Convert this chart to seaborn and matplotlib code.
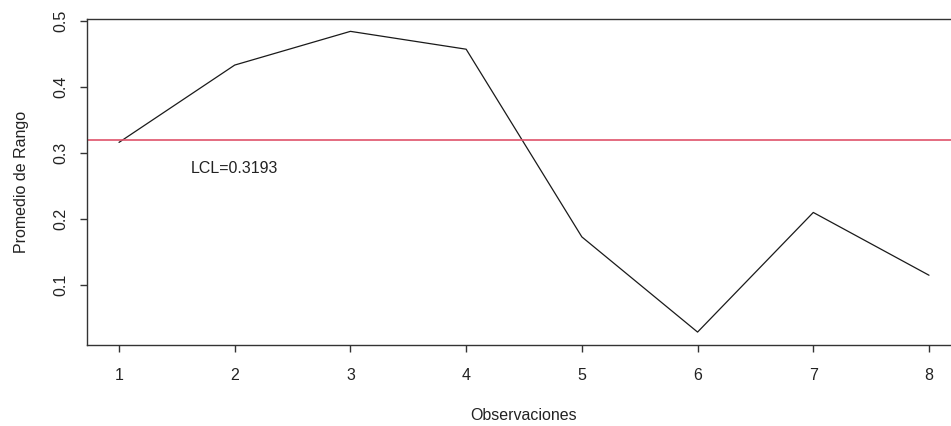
import matplotlib
matplotlib.use("Agg")
import matplotlib.pyplot as plt
import seaborn as sns
import pandas as pd

observaciones = [1, 2, 3, 4, 5, 6, 7, 8]
promedio_rango = [0.316, 0.433, 0.484, 0.457, 0.173, 0.029, 0.210, 0.115]
lcl_value = 0.3193
lcl_label = "LCL=0.3193"
x_ticks = [1, 2, 3, 4, 5, 6, 7, 8]
y_ticks = [0.1, 0.2, 0.3, 0.4, 0.5]
y_tick_labels = ["0.1", "0.2", "0.3", "0.4", "0.5"]

sns.set_style("white")
plt.rcParams["font.family"] = ["Liberation Sans", "DejaVu Sans"]

W, H = 951, 426
fig = plt.figure(figsize=(W / 100, H / 100), dpi=100)
x0, x1 = 0.72, 8.28
px_per_unit = (929 - 119) / 7.0
left_px = 119 - (1 - x0) * px_per_unit
width_px = (x1 - x0) * px_per_unit
top_px, bottom_px = 18.8, 345.3
ax = fig.add_axes([left_px / W, (H - bottom_px) / H, width_px / W, (bottom_px - top_px) / H])

df = pd.DataFrame({"obs": observaciones, "val": promedio_rango})
sns.lineplot(data=df, x="obs", y="val", ax=ax, color="#1a1a1a", linewidth=0.9)
ax.axhline(lcl_value, color="#DF536B", linewidth=1.2)
ax.text(2, 0.2765, lcl_label, ha="center", va="center", fontsize=11.5, color="#222222")

ax.set_xlim(x0, x1)
ax.set_ylim(0.009, 0.503)
ax.set_xticks(x_ticks)
ax.set_xticklabels([str(t) for t in x_ticks])
ax.set_yticks(y_ticks)
ax.set_yticklabels(y_tick_labels, rotation=90, va="center")

for s in ax.spines.values():
    s.set_color("#333333")
    s.set_linewidth(1.0)
ax.spines["right"].set_visible(False)

ax.tick_params(axis="both", which="major", direction="out", length=5, width=1.0,
               color="#333333", labelsize=11.5, labelcolor="#222222",
               bottom=True, left=True, top=False, right=False)
ax.tick_params(axis="x", pad=11)
ax.tick_params(axis="y", pad=8)

ax.set_xlabel("Observaciones", fontsize=11.5, color="#222222", labelpad=18)
ax.set_ylabel("Promedio de Rango", fontsize=11.5, color="#222222", labelpad=18)

fig.savefig("out.png", dpi=100)
